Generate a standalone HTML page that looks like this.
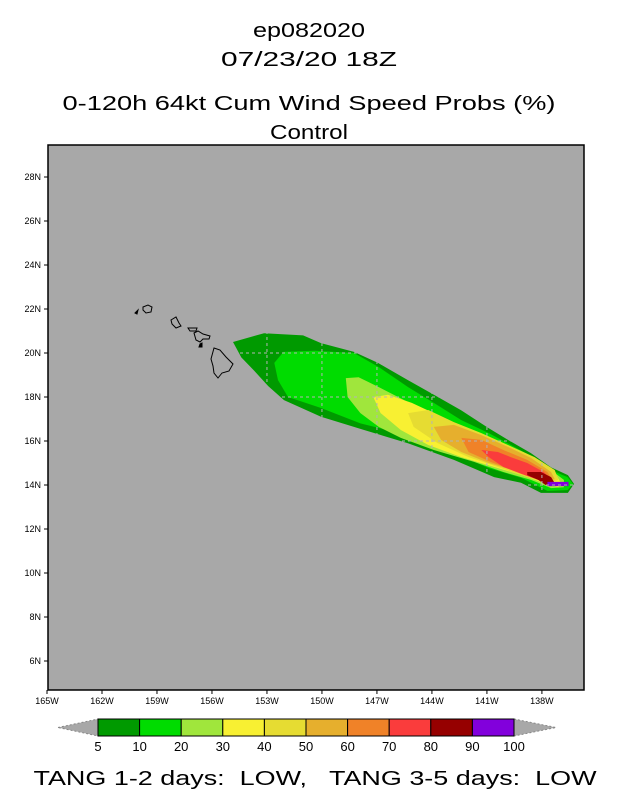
<!DOCTYPE html>
<html><head><meta charset="utf-8">
<style>
body{margin:0;background:#fff;width:618px;height:800px;overflow:hidden;font-family:"Liberation Sans",sans-serif}
svg{position:absolute;left:0;top:0}
</style></head><body>
<svg id="chart" width="618" height="800" xmlns="http://www.w3.org/2000/svg">
<g font-family="Liberation Sans, sans-serif" font-size="20" text-anchor="middle" fill="#000">
<text x="309" y="37" textLength="112" lengthAdjust="spacingAndGlyphs">ep082020</text>
<text x="309" y="66" textLength="176" lengthAdjust="spacingAndGlyphs">07/23/20 18Z</text>
<text x="309" y="110" textLength="493" lengthAdjust="spacingAndGlyphs">0-120h 64kt Cum Wind Speed Probs (%)</text>
<text x="309" y="139" textLength="78" lengthAdjust="spacingAndGlyphs">Control</text>
</g>
<rect x="48" y="145" width="536" height="545" fill="#a8a8a8"/>
<g id="plume"></g>
<g id="grid"></g>
<g fill="none" stroke="#000" stroke-width="1">
<path d="M135 313 L138 310 L137 314 Z" fill="#000"/>
<path d="M143 307 L148 305 L152 307 L151 312 L146 313 L143 310 Z"/>
<path d="M171 320 L176 317 L179 323 L181 326 L176 328 L172 324 Z"/>
<path d="M188 328 L197 328 L196 331 L190 331 Z"/>
<path d="M194 333 L198 331 L203 334 L210 336 L209 339 L203 339 L200 342 L196 340 Z"/>
<path d="M200 344 L202 343 L202 347 L199 347 Z" fill="#000"/>
<path d="M214 348 L220 350 L226 357 L233 364 L229 371 L222 373 L218 378 L214 373 L213 366 L211 359 Z"/>
</g>
<rect x="48" y="145" width="536" height="545" fill="none" stroke="#000" stroke-width="1.5"/>
<g id="axes" font-family="Liberation Sans, sans-serif" font-size="9" fill="#000"></g>
<g id="cbar"></g>
<text x="315" y="785" text-anchor="middle" font-family="Liberation Sans, sans-serif" font-size="20" xml:space="preserve" textLength="563" lengthAdjust="spacingAndGlyphs">TANG 1-2 days:  LOW,   TANG 3-5 days:  LOW</text>
</svg>
<script>
const levelColors=["#009a00","#00dc00","#a0e63c","#f8f032","#e6dc32","#e6af2d","#f08228","#fa3c3c","#960000","#8200dc"];
const levelLabels=["5","10","20","30","40","50","60","70","80","90","100"];
const lonTicks=[-165,-162,-159,-156,-153,-150,-147,-144,-141,-138];
const latTicks=[6,8,10,12,14,16,18,20,22,24,26,28];
const c5Lon=[-154.85,-153.16,-151.03,-150.05,-148.25,-146.94,-145.31,-143.89,-142.41,-140.94,-139.85,-138.6,-137.5,-136.58,-136.25,-136.58,-138.05,-139.14,-140.61,-142.8,-145.31,-147.7,-150.05,-152.07,-152.94,-153.7,-154.4];
const c5Lat=[20.5,20.9,20.8,20.45,20.05,19.55,18.77,18.1,17.4,16.6,16.05,15.45,14.8,14.45,14.05,13.64,13.64,14.1,14.36,15.14,15.9,16.5,17.1,17.86,18.5,19.2,19.8];
const c10Lon=[-152.6,-152.1,-150.4,-148.25,-146.9,-145.3,-143.9,-142.4,-140.9,-139.5,-138.2,-137.3,-136.6,-136.3,-136.6,-137.7,-139.1,-140.9,-142.8,-145.3,-147.9,-150.05,-151.85,-152.4];
const c10Lat=[19.55,20.05,20.1,20.0,19.36,18.45,17.73,16.95,16.36,15.73,15.14,14.6,14.36,14.05,13.77,13.73,14.32,14.77,15.45,16.27,16.8,17.5,18.0,18.77];
const c20Lon=[-148.7,-148.0,-146.9,-145.3,-143.9,-142.4,-140.9,-139.7,-138.4,-137.3,-136.8,-136.8,-137.5,-138.6,-140.1,-141.7,-143.9,-145.7,-146.9,-147.9,-148.6];
const c20Lat=[18.86,18.9,18.45,17.77,17.05,16.45,15.95,15.5,15.05,14.55,14.23,13.9,13.86,14.23,14.59,15.05,15.59,16.14,16.64,17.27,18.0];
const c30Lon=[-147.2,-146.4,-145.1,-143.9,-142.4,-140.9,-139.5,-138.2,-137.3,-137.0,-137.1,-137.9,-139.1,-140.6,-142.4,-144.2,-145.7,-146.8];
const c30Lat=[18.0,18.1,17.73,17.27,16.64,16.14,15.59,15.14,14.59,14.14,13.9,14.09,14.45,14.82,15.27,15.82,16.5,17.27];
const c40Lon=[-145.3,-144.2,-142.8,-141.3,-139.85,-138.4,-137.3,-137.1,-137.7,-138.8,-140.4,-142.0,-143.7,-145.0];
const c40Lat=[17.27,17.41,16.86,16.36,15.82,15.27,14.68,14.23,14.09,14.36,14.82,15.27,15.91,16.64];
const c50Lon=[-143.9,-142.8,-141.3,-139.85,-138.6,-137.5,-137.3,-137.9,-139.1,-140.9,-142.4,-143.5];
const c50Lat=[16.64,16.73,16.27,15.73,15.23,14.59,14.27,14.18,14.55,15.0,15.5,16.05];
const c60Lon=[-142.4,-141.3,-140.1,-138.8,-137.7,-137.5,-138.05,-139.3,-140.8,-142.0];
const c60Lat=[16.14,16.05,15.59,15.14,14.59,14.32,14.23,14.59,15.05,15.5];
const c70Lon=[-141.3,-140.4,-139.7,-138.8,-137.9,-137.5,-138.2,-139.1,-140.1,-140.9];
const c70Lat=[15.59,15.5,15.27,15.0,14.59,14.27,14.23,14.5,14.82,15.27];
const c80Lon=[-138.8,-138.05,-137.5,-137.3,-137.8,-138.2,-138.8];
const c80Lat=[14.59,14.59,14.36,14.09,14.0,14.23,14.45];
const c90Lon=[-137.7,-136.55,-136.55,-137.7];
const c90Lat=[14.14,14.14,13.95,13.95];

const NS="http://www.w3.org/2000/svg";
const X0=47,PXD=18.33,Y14=485,PYD=22;
function xs(lon){return X0+(lon+165)*PXD;}
function ys(lat){return Y14-(lat-14)*PYD;}
function mk(t,a,p){const e=document.createElementNS(NS,t);for(const k in a)e.setAttribute(k,a[k]);p.appendChild(e);return e;}
const contours=[[c5Lon,c5Lat],[c10Lon,c10Lat],[c20Lon,c20Lat],[c30Lon,c30Lat],[c40Lon,c40Lat],[c50Lon,c50Lat],[c60Lon,c60Lat],[c70Lon,c70Lat],[c80Lon,c80Lat],[c90Lon,c90Lat]];
const plume=document.getElementById('plume');
contours.forEach((c,i)=>{
  const pts=c[0].map((lo,j)=>xs(lo).toFixed(1)+","+ys(c[1][j]).toFixed(1)).join(" ");
  const p=mk('polygon',{points:pts,fill:levelColors[i]},plume);
  
  
});
const defs=mk('defs',{},document.getElementById('chart'));
const cp=mk('clipPath',{id:'pc'},defs);
mk('polygon',{points:c5Lon.map((lo,j)=>xs(lo)+","+ys(c5Lat[j])).join(" ")},cp);
const grid=document.getElementById('grid');grid.setAttribute('clip-path','url(#pc)');
lonTicks.forEach(l=>{const g=mk('line',{x1:xs(l),x2:xs(l),y1:145,y2:690,stroke:'#b4b4b4','stroke-dasharray':'3,3'},grid);});
latTicks.forEach(l=>{const g=mk('line',{x1:48,x2:584,y1:ys(l),y2:ys(l),stroke:'#b4b4b4','stroke-dasharray':'3,3'},grid);});
const axes=document.getElementById('axes');
lonTicks.forEach(l=>{
  const t=mk('text',{x:xs(l),y:704,'text-anchor':'middle'},axes);t.textContent=Math.abs(l)+"W";
  
  
  mk('line',{x1:xs(l),x2:xs(l),y1:690,y2:694,stroke:'#000'},axes);
});
latTicks.forEach(l=>{
  const t=mk('text',{x:41,y:ys(l)+3,'text-anchor':'end'},axes);t.textContent=l+"N";
  
  
  mk('line',{x1:44,x2:48,y1:ys(l),y2:ys(l),stroke:'#000'},axes);
});
const cb=document.getElementById('cbar');
const CX0=98,CW=41.6,CY=719,CH=17;
const lt=mk('polygon',{points:`58,${CY+CH/2} ${CX0},${CY} ${CX0},${CY+CH}`,fill:'#a8a8a8',stroke:'#888','stroke-dasharray':'2,2'},cb);

const rt=mk('polygon',{points:`${CX0+10*CW},${CY} ${CX0+10*CW+42},${CY+CH/2} ${CX0+10*CW},${CY+CH}`,fill:'#a8a8a8',stroke:'#888','stroke-dasharray':'2,2'},cb);

levelColors.forEach((c,i)=>{
  const r=mk('rect',{x:CX0+i*CW,y:CY,width:CW,height:CH,fill:c,stroke:'#000','stroke-width':1},cb);
  
  
});
levelLabels.forEach((s,i)=>{
  const t=mk('text',{x:CX0+i*CW,y:751,'text-anchor':'middle','font-size':13,'font-family':'Liberation Sans, sans-serif'},cb);t.textContent=s;
  
  
});
</script>
</body></html>
